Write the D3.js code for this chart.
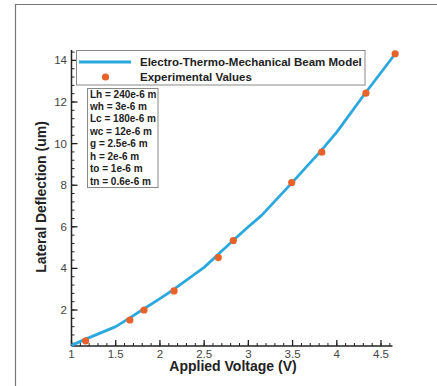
<!DOCTYPE html>
<html><head><meta charset="utf-8">
<script src="https://cdn.jsdelivr.net/npm/d3@7"></script>
<style>body{margin:0;background:#fff;} svg{display:block;font-family:"Liberation Sans",Arial,sans-serif;}</style>
</head><body>
<svg id="c" width="437" height="386"></svg>
<script>
const modelV = [1.0, 1.16, 1.5, 1.66, 1.82, 2.0, 2.16, 2.5, 2.66, 2.83, 3.0, 3.15, 3.5, 3.83, 4.0, 4.3, 4.64];
const modelD = [0.3, 0.6, 1.2, 1.62, 2.06, 2.55, 3.0, 4.05, 4.68, 5.35, 6.0, 6.55, 8.15, 9.7, 10.55, 12.3, 14.2];
const expV = [1.16, 1.66, 1.82, 2.16, 2.66, 2.83, 3.49, 3.83, 4.33, 4.66];
const expD = [0.52, 1.52, 2.0, 2.92, 4.52, 5.34, 8.13, 9.59, 12.43, 14.32];
const xTicks = [1, 1.5, 2, 2.5, 3, 3.5, 4, 4.5];
const yTicks = [2, 4, 6, 8, 10, 12, 14];
const legendLabels = ["Electro-Thermo-Mechanical Beam Model", "Experimental Values"];
const params = ["Lh = 240e-6 m", "wh = 3e-6 m", "Lc = 180e-6 m", "wc = 12e-6 m", "g = 2.5e-6 m", "h = 2e-6 m", "to = 1e-6 m", "tn = 0.6e-6 m"];

const svg = d3.select("#c");
const lineColor = "#2ba8dd", ptColor = "#e8622a";
// outer frame
svg.append("path").attr("d","M15.5,437 V4.5 H437").attr("fill","none").attr("stroke","#777").attr("stroke-width",1.2);

const x = d3.scaleLinear().domain([1, 4.63]).range([71.5, 392.5]);
const y = d3.scaleLinear().domain([0.27, 14.5]).range([346, 50]);

// axes lines
const g = svg.append("g");
g.append("line").attr("x1",x(1)).attr("x2",x(4.63)).attr("y1",y(0.27)).attr("y2",y(0.27)).attr("stroke","#222").attr("stroke-width",1.5);
g.append("line").attr("x1",x(1)).attr("x2",x(1)).attr("y1",y(0.27)).attr("y2",y(14.5)).attr("stroke","#222").attr("stroke-width",1.5);
// x ticks
const xMinor = d3.range(10, 47).map(d=>d/10).filter(v=>v<=4.63);
g.selectAll(".xm").data(xMinor).enter().append("line")
  .attr("x1",d=>x(d)).attr("x2",d=>x(d)).attr("y1",y(0.27)).attr("y2",y(0.27)-3).attr("stroke","#222").attr("stroke-width",1);
g.selectAll(".xM").data(xTicks).enter().append("line")
  .attr("x1",d=>x(d)).attr("x2",d=>x(d)).attr("y1",y(0.27)).attr("y2",y(0.27)-6).attr("stroke","#222").attr("stroke-width",1.3);
g.selectAll(".xl").data(xTicks).enter().append("text")
  .attr("x",d=>x(d)).attr("y",357.5).attr("text-anchor","middle").attr("font-size",11.5).attr("fill","#444").text(d=>d);
// y ticks
const yMinor = d3.range(1, 37).map(d=>d*0.4).filter(v=>v>0.27 && v<=14.5);
g.selectAll(".ym").data(yMinor).enter().append("line")
  .attr("x1",x(1)).attr("x2",x(1)+3).attr("y1",d=>y(d)).attr("y2",d=>y(d)).attr("stroke","#222").attr("stroke-width",1);
g.selectAll(".yM").data(yTicks).enter().append("line")
  .attr("x1",x(1)).attr("x2",x(1)+6).attr("y1",d=>y(d)).attr("y2",d=>y(d)).attr("stroke","#222").attr("stroke-width",1.3);
g.selectAll(".yl").data(yTicks).enter().append("text")
  .attr("x",67).attr("y",d=>y(d)+4).attr("text-anchor","end").attr("font-size",11.5).attr("fill","#444").text(d=>d);

// axis titles
svg.append("text").attr("x",233).attr("y",371).attr("text-anchor","middle").attr("font-size",14).attr("font-weight","bold").attr("fill","#222").text("Applied Voltage (V)");
svg.append("text").attr("transform","translate(46,197) rotate(-90)").attr("text-anchor","middle").attr("font-size",14).attr("font-weight","bold").attr("fill","#222").text("Lateral Deflection (um)");

// model line
const pts = modelV.map((v,i)=>[v, modelD[i]]);
svg.append("path").datum(pts).attr("d", d3.line().x(d=>x(d[0])).y(d=>y(d[1])))
  .attr("fill","none").attr("stroke",lineColor).attr("stroke-width",2.8).attr("stroke-linejoin","round");
// experimental points
svg.selectAll(".pt").data(expV.map((v,i)=>[v, expD[i]])).enter().append("circle")
  .attr("cx",d=>x(d[0])).attr("cy",d=>y(d[1])).attr("r",3.6).attr("fill",ptColor);

// legend
const lg = svg.append("g");
lg.append("rect").attr("x",76.5).attr("y",50.5).attr("width",288.5).attr("height",34.5).attr("fill","#fff").attr("stroke","#888").attr("stroke-width",1);
lg.append("line").attr("x1",79).attr("x2",131).attr("y1",62).attr("y2",62).attr("stroke",lineColor).attr("stroke-width",3);
lg.append("circle").attr("cx",105.5).attr("cy",77).attr("r",3.6).attr("fill",ptColor);
lg.selectAll(".lt").data(legendLabels).enter().append("text")
  .attr("x",140).attr("y",(d,i)=>66+i*14.5).attr("font-size",11.5).attr("font-weight","bold").attr("fill","#222").text(d=>d);

// parameter box
const pb = svg.append("g");
pb.append("rect").attr("x",87.5).attr("y",88.5).attr("width",70.5).attr("height",99).attr("fill","#fff").attr("stroke","#888").attr("stroke-width",1);
pb.selectAll(".pt2").data(params).enter().append("text")
  .attr("x",90).attr("y",(d,i)=>97.5+i*12.45).attr("font-size",10).attr("font-weight","bold").attr("fill","#222").text(d=>d);
</script>
</body></html>
